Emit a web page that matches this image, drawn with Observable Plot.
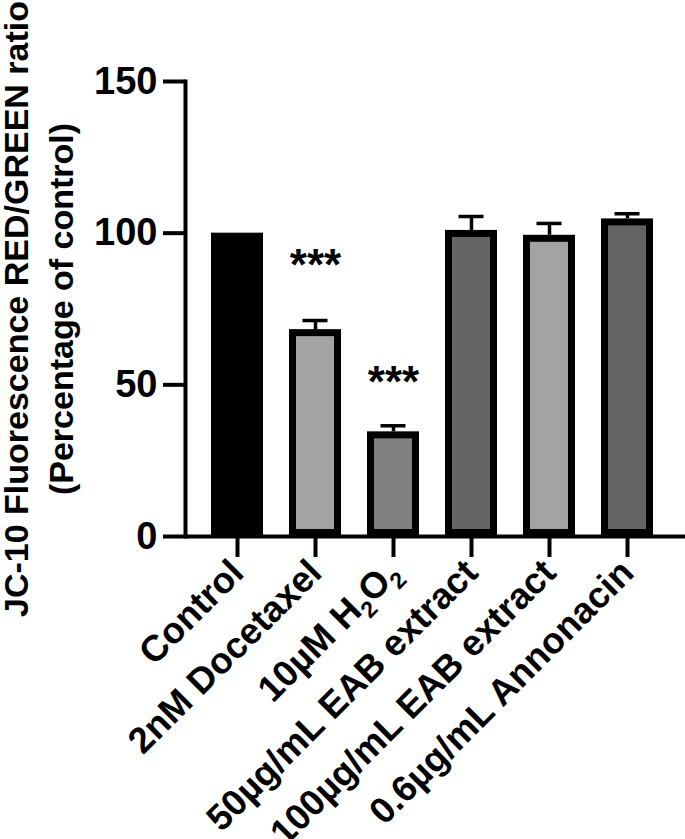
<!DOCTYPE html>
<html><head><meta charset="utf-8">
<script src="https://cdn.jsdelivr.net/npm/d3@7"></script>
<script src="https://cdn.jsdelivr.net/npm/@observablehq/plot@0.6"></script>
<style>body{margin:0;background:#fff} svg{display:block}</style>
</head><body><div id="chart"></div>
<script>
const groups = ["Control", "2nM Docetaxel", "10µM H₂O₂", "50µg/mL EAB extract", "100µg/mL EAB extract", "0.6µg/mL Annonacin"];
const means = [100, 68.2, 34.5, 100.9, 99.3, 104.7];
const upperErr = [null, 71.2, 36.5, 105.5, 103.2, 106.4];
const stars = ["", "***", "***", "", "", ""];
const starY = [null, 84.6, 46.0, null, null, null];
const yTicks = [0, 50, 100, 150];
const yTitle = "JC-10 Fluorescence RED/GREEN ratio\n(Percentage of control)";
const barColors = ["#000000", "#a3a3a3", "#808080", "#646464", "#a3a3a3", "#646464"];

const data = groups.map((g, i) => ({group: g, mean: means[i], upper: upperErr[i], star: stars[i], starY: starY[i]}));
const withErr = data.filter(d => d.upper != null);
const withStar = data.filter(d => d.star);
const font = "'Liberation Sans', Arial, sans-serif";

const chart = Plot.plot({
  width: 685, height: 839,
  marginTop: 81, marginBottom: 303, marginLeft: 185, marginRight: 0,
  style: {fontFamily: font, background: "white", color: "black"},
  x: {type: "band", domain: groups, paddingInner: 0.337, paddingOuter: 0.3575, align: 0.446, axis: null},
  y: {domain: [0, 150], axis: null},
  color: {domain: groups, range: barColors},
  marks: [
    Plot.barY(data, {x: "group", y: "mean", fill: "group", stroke: "black", strokeWidth: 7, inset: 3.5}),
    Plot.ruleX(withErr, {x: "group", y1: "mean", y2: "upper", stroke: "black", strokeWidth: 3.5}),
    Plot.tickY(withErr, {x: "group", y: "upper", stroke: "black", strokeWidth: 3.5, insetLeft: 13.5, insetRight: 13.5}),
    Plot.text(withStar, {x: "group", y: "starY", text: "star", fontSize: 44, fontWeight: "bold", lineAnchor: "bottom"}),
    Plot.axisY({ticks: yTicks, tickSize: 22, tickPadding: 6, strokeWidth: 4, fontSize: 38, fontWeight: "bold", label: null}),
    Plot.axisX({tickSize: 21, tickPadding: 9, strokeWidth: 4, tickRotate: -45, fontSize: 36.5, fontWeight: "bold", label: null}),
    Plot.frame({anchor: "left", strokeWidth: 4}),
    Plot.ruleY([0], {strokeWidth: 4}),
    Plot.text([yTitle], {text: d => d, frameAnchor: "left", textAnchor: "middle", rotate: -90, dx: -113, lineAnchor: "bottom", lineHeight: 1.32, fontSize: 34, fontWeight: "bold"})
  ]
});

// render subscripts for H₂O₂
const ns = "http://www.w3.org/2000/svg";
chart.querySelectorAll("text").forEach(t => {
  const s = t.textContent;
  if (!s.includes("₂")) return;
  const parts = s.split("₂");
  while (t.firstChild) t.removeChild(t.firstChild);
  parts.forEach((p, i) => {
    if (i > 0) {
      const sub = document.createElementNS(ns, "tspan");
      sub.setAttribute("font-size", "23");
      sub.setAttribute("dy", "9");
      sub.textContent = "2";
      t.appendChild(sub);
    }
    if (p) {
      const n = document.createElementNS(ns, "tspan");
      if (i > 0) n.setAttribute("dy", "-9");
      n.textContent = p;
      t.appendChild(n);
    }
  });
});
document.getElementById("chart").appendChild(chart);
</script>
</body></html>
